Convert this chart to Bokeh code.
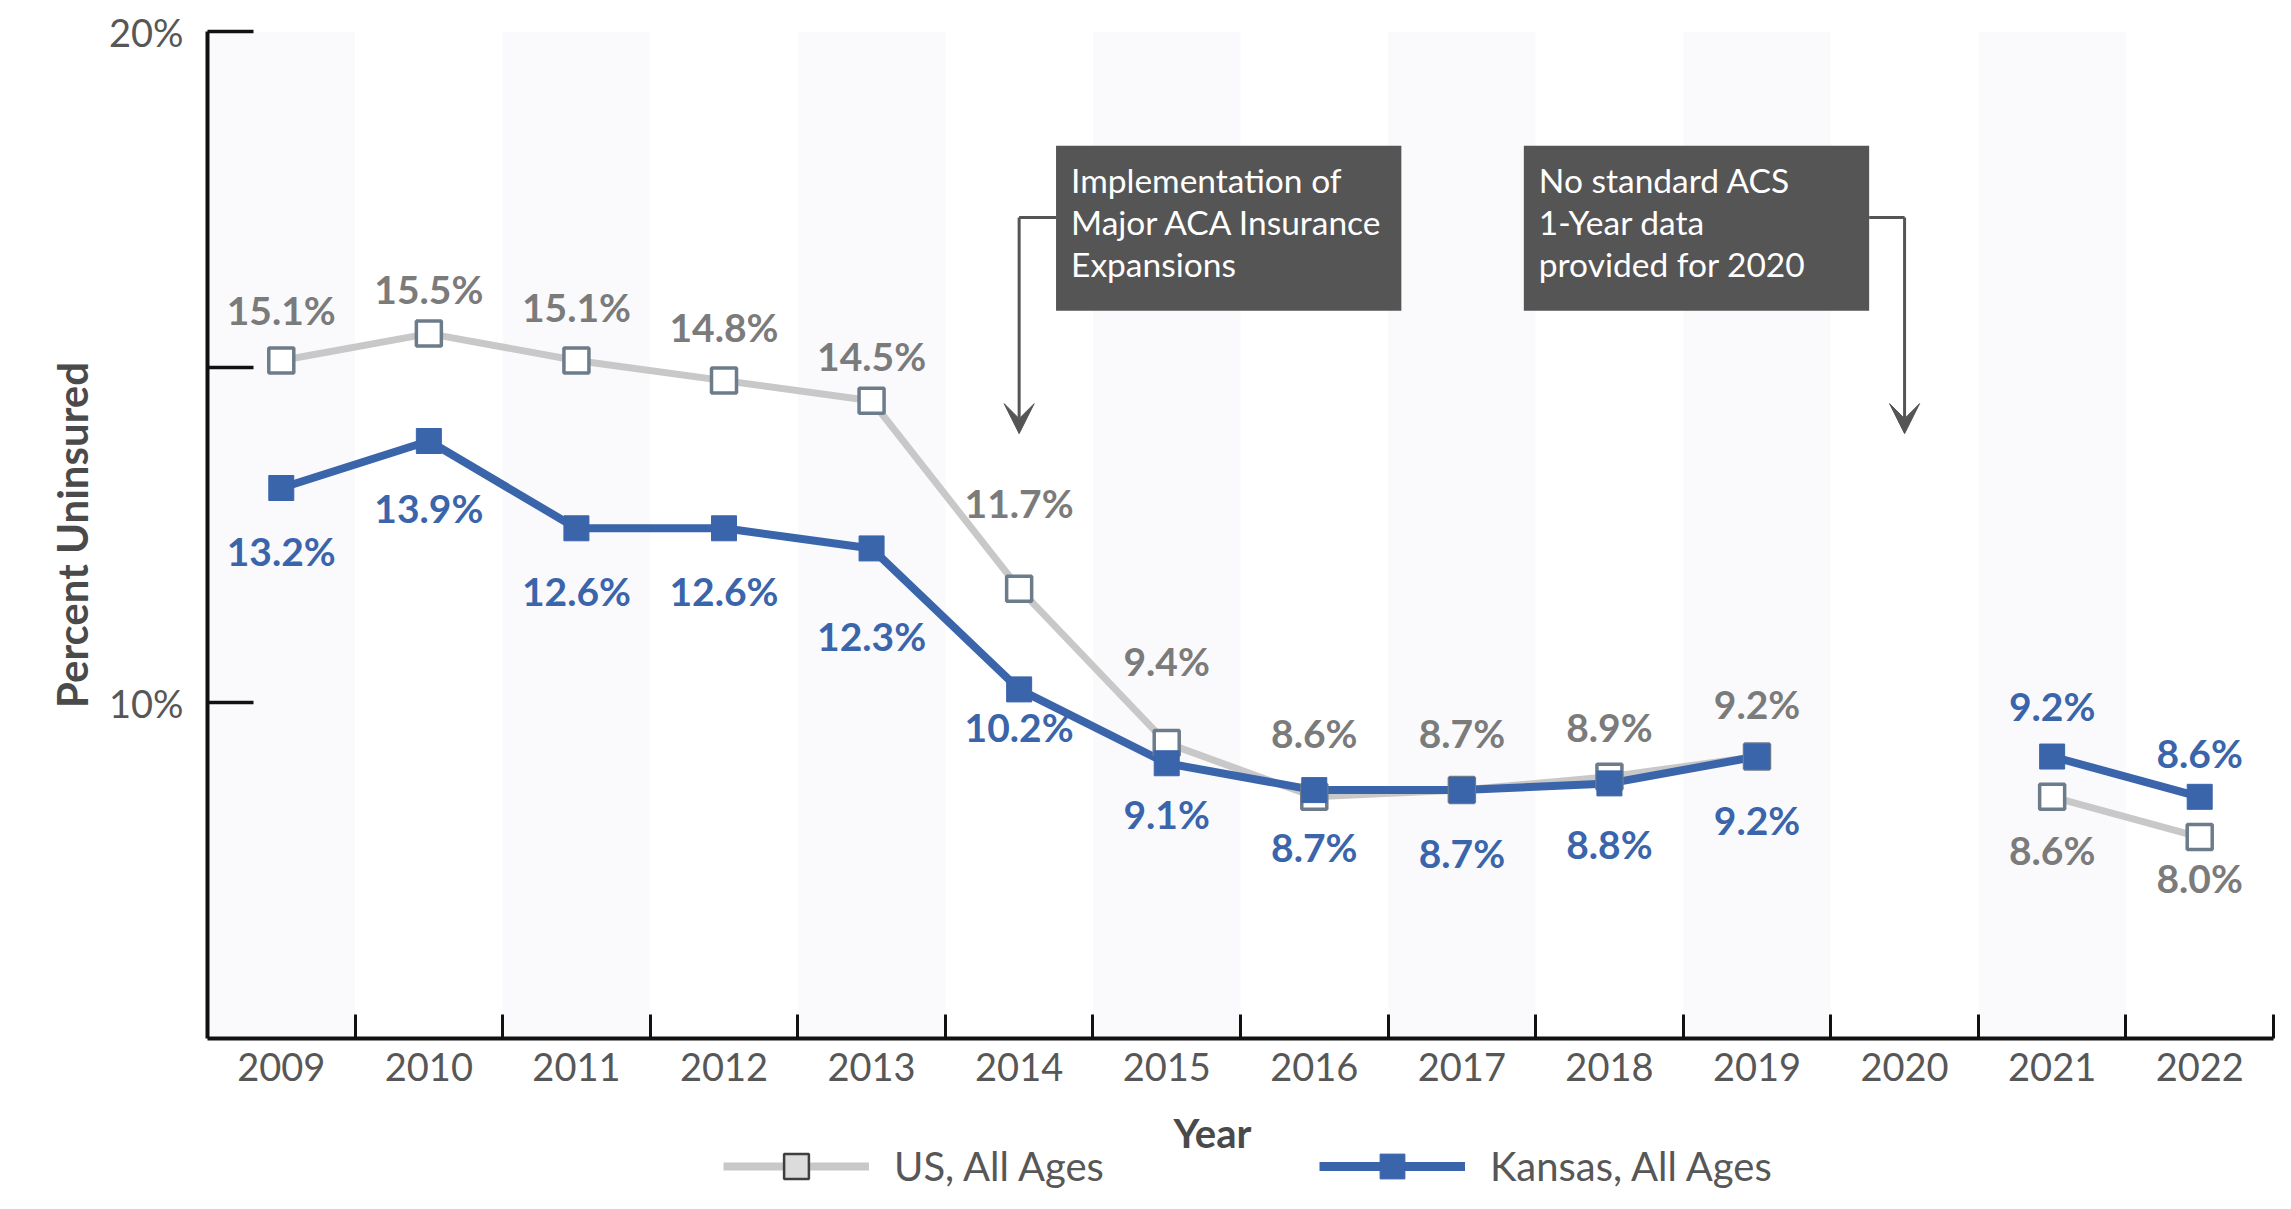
import numpy as np
from bokeh.plotting import figure
from bokeh.layouts import column
from bokeh.models import (Range1d, FixedTicker, BoxAnnotation, Label, Arrow, VeeHead,
                          Legend, LegendItem, ColumnDataSource)
from bokeh.core.properties import value
from bokeh.embed import file_html
from bokeh.resources import INLINE

# ---------------- data ----------------
years = [2009, 2010, 2011, 2012, 2013, 2014, 2015, 2016, 2017, 2018, 2019, 2020, 2021, 2022]
year_labels = ["2009", "2010", "2011", "2012", "2013", "2014", "2015", "2016", "2017",
               "2018", "2019", "2020", "2021", "2022"]
us_all_ages = [15.1, 15.5, 15.1, 14.8, 14.5, 11.7, 9.4, 8.6, 8.7, 8.9, 9.2, np.nan, 8.6, 8.0]
kansas_all_ages = [13.2, 13.9, 12.6, 12.6, 12.3, 10.2, 9.1, 8.7, 8.7, 8.8, 9.2, np.nan, 9.2, 8.6]
y_ticks = [10, 15, 20]
y_tick_labels = ["10%", "", "20%"]
note_aca = "Implementation of\nMajor ACA Insurance\nExpansions"
note_2020 = "No standard ACS\n1-Year data\nprovided for 2020"

# label placement (screen px, + = down)
us_label_dy = [-50, -45, -53, -54, -45, -86, -82, -64, -57, -50, -53, 0, 53, 41]
ks_label_dy = [63, 67, 63, 63, 88, 38, 51, 57, 63, 61, 63, 0, -51, -44]

FONT = "Lato"
BLUE = "#3a65ab"
GRAY_LINE = "#c8c8c8"
GRAY_TEXT = "#7b7b7b"
AXIS_TEXT = "#575757"
TITLE_TEXT = "#4a4a4a"
BOX = "#555555"

W = 2275
H_MAIN = 1100
H_LEG = 93
BORDER_L, BORDER_R = 207, 2

p = figure(width=W, height=H_MAIN, output_backend="svg", toolbar_location=None,
           x_range=Range1d(years[0] - 0.5, years[-1] + 0.5), y_range=Range1d(5, 20),
           min_border_left=BORDER_L, min_border_right=BORDER_R, min_border_top=31,
           min_border_bottom=62)
p.outline_line_color = None
p.xgrid.visible = False
p.ygrid.visible = False
p.background_fill_color = "white"

# alternating column bands
band_years = years[0::2]
p.vbar(x=band_years, width=1, top=20, bottom=5, fill_color="#fafafc", line_color=None)

# series
p.line(years, us_all_ages, line_color=GRAY_LINE, line_width=7)
p.line(years, kansas_all_ages, line_color=BLUE, line_width=8)
p.scatter(years, us_all_ages, marker="square", size=25, fill_color="white",
          line_color="#6d7c8a", line_width=3.5)
p.scatter(years, kansas_all_ages, marker="square", size=25, fill_color=BLUE,
          line_color=BLUE, line_width=1)

def label_source(vals, dys):
    xs, ys, ts, ds = [], [], [], []
    for x, v, d in zip(years, vals, dys):
        if not np.isnan(v):
            xs.append(x); ys.append(v); ts.append(f"{v:.1f}%"); ds.append(d)
    return ColumnDataSource(dict(x=xs, y=ys, text=ts, dy=ds))

p.text(x="x", y="y", text="text", y_offset="dy", source=label_source(us_all_ages, us_label_dy),
       text_align="center", text_baseline="middle", text_font=value(FONT),
       text_font_style="bold", text_font_size="39px", text_color=GRAY_TEXT)
p.text(x="x", y="y", text="text", y_offset="dy", source=label_source(kansas_all_ages, ks_label_dy),
       text_align="center", text_baseline="middle", text_font=value(FONT),
       text_font_style="bold", text_font_size="39px", text_color=BLUE)

# annotation boxes + arrows
aca_x, gap_x = 2014, 2020
for (l, r, txt, ax, side) in [(2014.25, 2016.59, note_aca, aca_x, "left"),
                               (2017.42, 2019.76, note_2020, gap_x, "right")]:
    p.add_layout(BoxAnnotation(left=l, right=r, bottom=15.84, top=18.30,
                               fill_color=BOX, fill_alpha=1, line_color=None))
    p.add_layout(Label(x=l, y=18.30, x_offset=15, y_offset=-14, text=txt,
                       text_align="left", text_baseline="top", text_color="white",
                       text_font=FONT, text_font_size="33.5px", text_line_height=1.06))
    edge = l if side == "left" else r
    p.add_layout(Arrow(x_start=edge, y_start=17.23, x_end=ax, y_end=17.23, end=None,
                       line_color=BOX, line_width=3))
    p.add_layout(Arrow(x_start=ax, y_start=17.23, x_end=ax, y_end=14.01,
                       end=VeeHead(size=30, fill_color=BOX, line_color=BOX, line_width=1),
                       line_color=BOX, line_width=3))

# axes
xa = p.xaxis[0]
xa.ticker = FixedTicker(ticks=years, minor_ticks=[y + 0.5 for y in years])
xa.major_label_overrides = {y: s for y, s in zip(years, year_labels)}
xa.major_tick_line_color = None
xa.minor_tick_in = 24
xa.minor_tick_out = 0
xa.minor_tick_line_color = "#111111"
xa.minor_tick_line_width = 3
xa.axis_line_color = "#111111"
xa.axis_line_width = 4
xa.major_label_text_font = FONT
xa.major_label_text_font_size = "38px"
xa.major_label_text_color = AXIS_TEXT
xa.major_label_standoff = 8

ya = p.yaxis[0]
ya.ticker = FixedTicker(ticks=y_ticks)
ya.major_label_overrides = {t: s for t, s in zip(y_ticks, y_tick_labels)}
ya.minor_tick_line_color = None
ya.major_tick_in = 46
ya.major_tick_out = 0
ya.major_tick_line_color = "#111111"
ya.major_tick_line_width = 3.5
ya.axis_line_color = "#111111"
ya.axis_line_width = 4
ya.major_label_text_font = FONT
ya.major_label_text_font_size = "38px"
ya.major_label_text_color = AXIS_TEXT
ya.major_label_standoff = 24
ya.axis_label = "Percent Uninsured"
ya.axis_label_text_font = FONT
ya.axis_label_text_font_style = "bold"
ya.axis_label_text_font_size = "42px"
ya.axis_label_text_color = TITLE_TEXT
ya.axis_label_standoff = 9

# ---------- bottom strip: x-axis title + legend ----------
q = figure(width=W, height=H_LEG, output_backend="svg", toolbar_location=None,
           x_range=Range1d(years[0] - 0.5, years[-1] + 0.5), y_range=Range1d(0, H_LEG),
           x_axis_location=None, y_axis_location=None,
           min_border_left=BORDER_L, min_border_right=BORDER_R,
           min_border_top=0, min_border_bottom=0)
q.grid.visible = False
q.outline_line_color = None

YEAR_CENTER = 32          # px from top of strip
LEG_CENTER = 66           # px from top of strip
q.add_layout(Label(x=2015.31, y=H_LEG - YEAR_CENTER, text="Year", text_align="center",
                   text_baseline="middle", text_font=FONT, text_font_style="bold",
                   text_font_size="40px", text_color=TITLE_TEXT))

src_empty = ColumnDataSource(dict(x=[np.nan], y=[np.nan]))
lg_us_line = q.line("x", "y", source=src_empty, line_color=GRAY_LINE, line_width=8)
lg_us_mk = q.scatter("x", "y", source=src_empty, marker="square", fill_color="#dcdcdc",
                     line_color="#3f3f3f", line_width=2.5)
lg_ks_line = q.line("x", "y", source=src_empty, line_color=BLUE, line_width=9)
lg_ks_mk = q.scatter("x", "y", source=src_empty, marker="square", fill_color=BLUE,
                     line_color=BLUE)
GH = 62
legend = Legend(items=[LegendItem(label="US, All Ages", renderers=[lg_us_line, lg_us_mk]),
                       LegendItem(label="Kansas, All Ages", renderers=[lg_ks_line, lg_ks_mk])],
                orientation="horizontal",
                location=(723 - BORDER_L, H_LEG - GH - (LEG_CENTER - GH / 2)),
                glyph_width=146, glyph_height=GH, label_standoff=25, spacing=215,
                padding=0, margin=0, label_height=20,
                label_text_font=FONT, label_text_font_size="40px",
                label_text_color=AXIS_TEXT, border_line_color=None,
                background_fill_alpha=0)
q.add_layout(legend, "center")

layout = column(p, q, spacing=0)
open("out.html", "w").write(file_html(layout, INLINE))
